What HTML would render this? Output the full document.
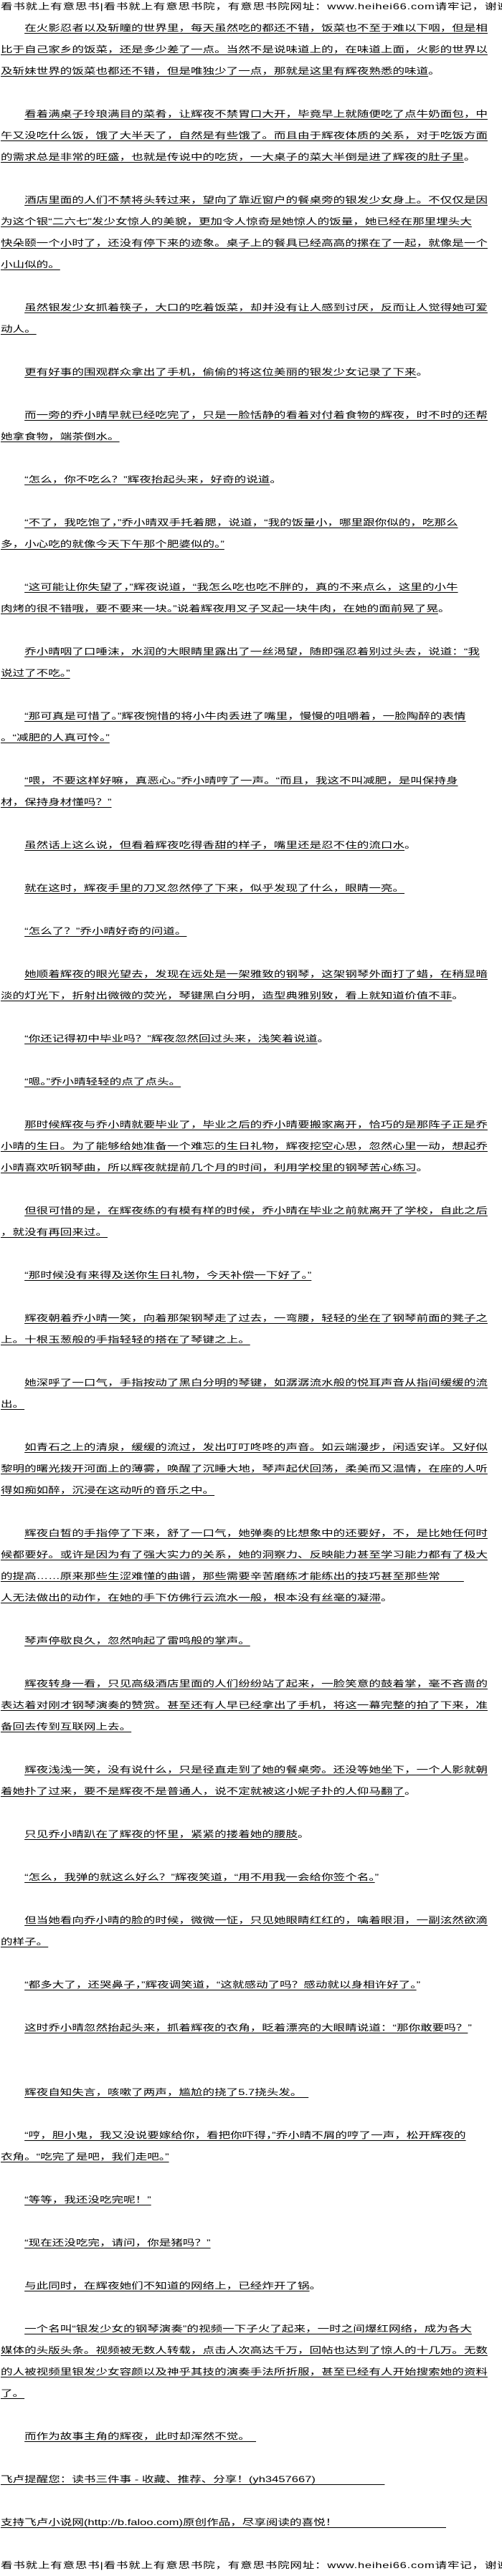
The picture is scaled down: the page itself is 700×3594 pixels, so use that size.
<!DOCTYPE html>
<html><head><meta charset="utf-8">
<style>
html,body{margin:0;padding:0;background:#fff;width:700px;height:3590px;overflow:hidden;}
#w{position:absolute;left:1px;top:-6px;width:507px;transform:scaleX(1.38);transform-origin:0 0;
font-family:"Liberation Sans","Noto Sans CJK SC",sans-serif;font-size:12px;line-height:30px;color:#000;}
#w div{height:30px;white-space:nowrap;}
#w div.i{padding-left:24px;}
.u{border-bottom:1px solid #000;}
.h{letter-spacing:0.55px;}
</style></head><body>
<div id="w">
<div class="h">看书就上有意思书|看书就上有意思书院，有意思书院网址：www.heihei66.com请牢记，谢谢</div>
<div class="i"><span class="u">在火影忍者以及斩瞳的世界里，每天虽然吃的都还不错，饭菜也不至于难以下咽，但是相</span></div>
<div><span class="u">比于自己家乡的饭菜，还是多少差了一点。当然不是说味道上的，在味道上面，火影的世界以</span></div>
<div><span class="u">及斩妹世界的饭菜也都还不错，但是唯独少了一点，那就是这里有辉夜熟悉的味道</span>。</div>
<div></div>
<div class="i"><span class="u">看着满桌子玲琅满目的菜肴，让辉夜不禁胃口大开，毕竟早上就随便吃了点牛奶面包，中</span></div>
<div><span class="u">午又没吃什么饭，饿了大半天了，自然是有些饿了。而且由于辉夜体质的关系，对于吃饭方面</span></div>
<div><span class="u">的需求总是非常的旺盛，也就是传说中的吃货，一大桌子的菜大半倒是进了辉夜的肚子里</span>。</div>
<div></div>
<div class="i"><span class="u">酒店里面的人们不禁将头转过来，望向了靠近窗户的餐桌旁的银发少女身上。不仅仅是因</span></div>
<div><span class="u">为这个银“二六七”发少女惊人的美貌，更加令人惊奇是她惊人的饭量，她已经在那里埋头大</span></div>
<div><span class="u">快朵颐一个小时了，还没有停下来的迹象。桌子上的餐具已经高高的摞在了一起，就像是一个</span></div>
<div><span class="u">小山似的。</span></div>
<div></div>
<div class="i"><span class="u">虽然银发少女抓着筷子，大口的吃着饭菜，却并没有让人感到讨厌，反而让人觉得她可爱</span></div>
<div><span class="u">动人。</span></div>
<div></div>
<div class="i"><span class="u">更有好事的围观群众拿出了手机，偷偷的将这位美丽的银发少女记录了下来</span>。</div>
<div></div>
<div class="i"><span class="u">而一旁的乔小晴早就已经吃完了，只是一脸恬静的看着对付着食物的辉夜，时不时的还帮</span></div>
<div><span class="u">她拿食物，端茶倒水。</span></div>
<div></div>
<div class="i"><span class="u">“怎么，你不吃么？”辉夜抬起头来，好奇的说道</span>。</div>
<div></div>
<div class="i"><span class="u">“不了，我吃饱了，”乔小晴双手托着腮，说道，“我的饭量小，哪里跟你似的，吃那么</span></div>
<div><span class="u">多，小心吃的就像今天下午那个肥婆似的。”</span></div>
<div></div>
<div class="i"><span class="u">“这可能让你失望了，”辉夜说道，“我怎么吃也吃不胖的，真的不来点么，这里的小牛</span></div>
<div><span class="u">肉烤的很不错哦，要不要来一块。”说着辉夜用叉子叉起一块牛肉，在她的面前晃了晃</span>。</div>
<div></div>
<div class="i"><span class="u">乔小晴咽了口唾沫，水润的大眼睛里露出了一丝渴望，随即强忍着别过头去，说道：“我</span></div>
<div><span class="u">说过了不吃。”</span></div>
<div></div>
<div class="i"><span class="u">“那可真是可惜了。”辉夜惋惜的将小牛肉丢进了嘴里，慢慢的咀嚼着，一脸陶醉的表情</span></div>
<div><span class="u">。“减肥的人真可怜。”</span></div>
<div></div>
<div class="i"><span class="u">“喂，不要这样好嘛，真恶心。”乔小晴哼了一声。“而且，我这不叫减肥，是叫保持身</span></div>
<div><span class="u">材，保持身材懂吗？”</span></div>
<div></div>
<div class="i"><span class="u">虽然话上这么说，但看着辉夜吃得香甜的样子，嘴里还是忍不住的流口水</span>。</div>
<div></div>
<div class="i"><span class="u">就在这时，辉夜手里的刀叉忽然停了下来，似乎发现了什么，眼睛一亮。</span></div>
<div></div>
<div class="i"><span class="u">“怎么了？”乔小晴好奇的问道。</span></div>
<div></div>
<div class="i"><span class="u">她顺着辉夜的眼光望去，发现在远处是一架雅致的钢琴，这架钢琴外面打了蜡，在稍显暗</span></div>
<div><span class="u">淡的灯光下，折射出微微的荧光，琴键黑白分明，造型典雅别致，看上就知道价值不菲</span>。</div>
<div></div>
<div class="i"><span class="u">“你还记得初中毕业吗？”辉夜忽然回过头来，浅笑着说道</span>。</div>
<div></div>
<div class="i"><span class="u">“嗯。”乔小晴轻轻的点了点头。</span></div>
<div></div>
<div class="i"><span class="u">那时候辉夜与乔小晴就要毕业了，毕业之后的乔小晴要搬家离开，恰巧的是那阵子正是乔</span></div>
<div><span class="u">小晴的生日。为了能够给她准备一个难忘的生日礼物，辉夜挖空心思，忽然心里一动，想起乔</span></div>
<div><span class="u">小晴喜欢听钢琴曲，所以辉夜就提前几个月的时间，利用学校里的钢琴苦心练习</span>。</div>
<div></div>
<div class="i"><span class="u">但很可惜的是，在辉夜练的有模有样的时候，乔小晴在毕业之前就离开了学校，自此之后</span></div>
<div><span class="u">，就没有再回来过。</span></div>
<div></div>
<div class="i"><span class="u">“那时候没有来得及送你生日礼物，今天补偿一下好了。”</span></div>
<div></div>
<div class="i"><span class="u">辉夜朝着乔小晴一笑，向着那架钢琴走了过去，一弯腰，轻轻的坐在了钢琴前面的凳子之</span></div>
<div><span class="u">上。十根玉葱般的手指轻轻的搭在了琴键之上。</span></div>
<div></div>
<div class="i"><span class="u">她深呼了一口气，手指按动了黑白分明的琴键，如潺潺流水般的悦耳声音从指间缓缓的流</span></div>
<div><span class="u">出。</span></div>
<div></div>
<div class="i"><span class="u">如青石之上的清泉，缓缓的流过，发出叮叮咚咚的声音。如云端漫步，闲适安详。又好似</span></div>
<div><span class="u">黎明的曙光拨开河面上的薄雾，唤醒了沉睡大地，琴声起伏回荡，柔美而又温情，在座的人听</span></div>
<div><span class="u">得如痴如醉，沉浸在这动听的音乐之中。</span></div>
<div></div>
<div class="i"><span class="u">辉夜白皙的手指停了下来，舒了一口气，她弹奏的比想象中的还要好，不，是比她任何时</span></div>
<div><span class="u">候都要好。或许是因为有了强大实力的关系，她的洞察力、反映能力甚至学习能力都有了极大</span></div>
<div><span class="u">的提高……原来那些生涩难懂的曲谱，那些需要辛苦磨练才能练出的技巧甚至那些常　　</span></div>
<div><span class="u">人无法做出的动作，在她的手下仿佛行云流水一般，根本没有丝毫的凝滞</span>。</div>
<div></div>
<div class="i"><span class="u">琴声停歇良久，忽然响起了雷鸣般的掌声。</span></div>
<div></div>
<div class="i"><span class="u">辉夜转身一看，只见高级酒店里面的人们纷纷站了起来，一脸笑意的鼓着掌，毫不吝啬的</span></div>
<div><span class="u">表达着对刚才钢琴演奏的赞赏。甚至还有人早已经拿出了手机，将这一幕完整的拍了下来，准</span></div>
<div><span class="u">备回去传到互联网上去。</span></div>
<div></div>
<div class="i"><span class="u">辉夜浅浅一笑，没有说什么，只是径直走到了她的餐桌旁。还没等她坐下，一个人影就朝</span></div>
<div><span class="u">着她扑了过来，要不是辉夜不是普通人，说不定就被这小妮子扑的人仰马翻了</span>。</div>
<div></div>
<div class="i"><span class="u">只见乔小晴趴在了辉夜的怀里，紧紧的搂着她的腰肢</span>。</div>
<div></div>
<div class="i"><span class="u">“怎么，我弹的就这么好么？”辉夜笑道，“用不用我一会给你签个名。</span>”</div>
<div></div>
<div class="i"><span class="u">但当她看向乔小晴的脸的时候，微微一怔，只见她眼睛红红的，噙着眼泪，一副泫然欲滴</span></div>
<div><span class="u">的样子。</span></div>
<div></div>
<div class="i"><span class="u">“都多大了，还哭鼻子，”辉夜调笑道，“这就感动了吗？感动就以身相许好了。</span>”</div>
<div></div>
<div class="i"><span class="u">这时乔小晴忽然抬起头来，抓着辉夜的衣角，眨着漂亮的大眼睛说道：“那你敢要吗？</span>”</div>
<div></div>
<div></div>
<div class="i"><span class="u">辉夜自知失言，咳嗽了两声，尴尬的挠了5.7挠头发。　</span></div>
<div></div>
<div class="i"><span class="u">“哼，胆小鬼，我又没说要嫁给你，看把你吓得，”乔小晴不屑的哼了一声，松开辉夜的</span></div>
<div><span class="u">衣角。“吃完了是吧，我们走吧。”</span></div>
<div></div>
<div class="i"><span class="u">“等等，我还没吃完呢！”</span></div>
<div></div>
<div class="i"><span class="u">“现在还没吃完，请问，你是猪吗？”</span></div>
<div></div>
<div class="i"><span class="u">与此同时，在辉夜她们不知道的网络上，已经炸开了锅</span>。</div>
<div></div>
<div class="i"><span class="u">一个名叫“银发少女的钢琴演奏”的视频一下子火了起来，一时之间爆红网络，成为各大</span></div>
<div><span class="u">媒体的头版头条。视频被无数人转载，点击人次高达千万，回帖也达到了惊人的十几万。无数</span></div>
<div><span class="u">的人被视频里银发少女容颜以及神乎其技的演奏手法所折服，甚至已经有人开始搜索她的资料</span></div>
<div><span class="u">了。</span></div>
<div></div>
<div class="i"><span class="u">而作为故事主角的辉夜，此时却浑然不觉。　</span></div>
<div></div>
<div><span class="u" style="padding-right:70px">飞卢提醒您：读书三件事 - 收藏、推荐、分享！(yh3457667)</span></div>
<div></div>
<div><span class="u" style="padding-right:110px">支持飞卢小说网(http://b.faloo.com)原创作品，尽享阅读的喜悦！</span></div>
<div></div>
<div class="h">看书就上有意思书|看书就上有意思书院，有意思书院网址：www.heihei66.com请牢记，谢谢</div>
</div>
</body></html>
